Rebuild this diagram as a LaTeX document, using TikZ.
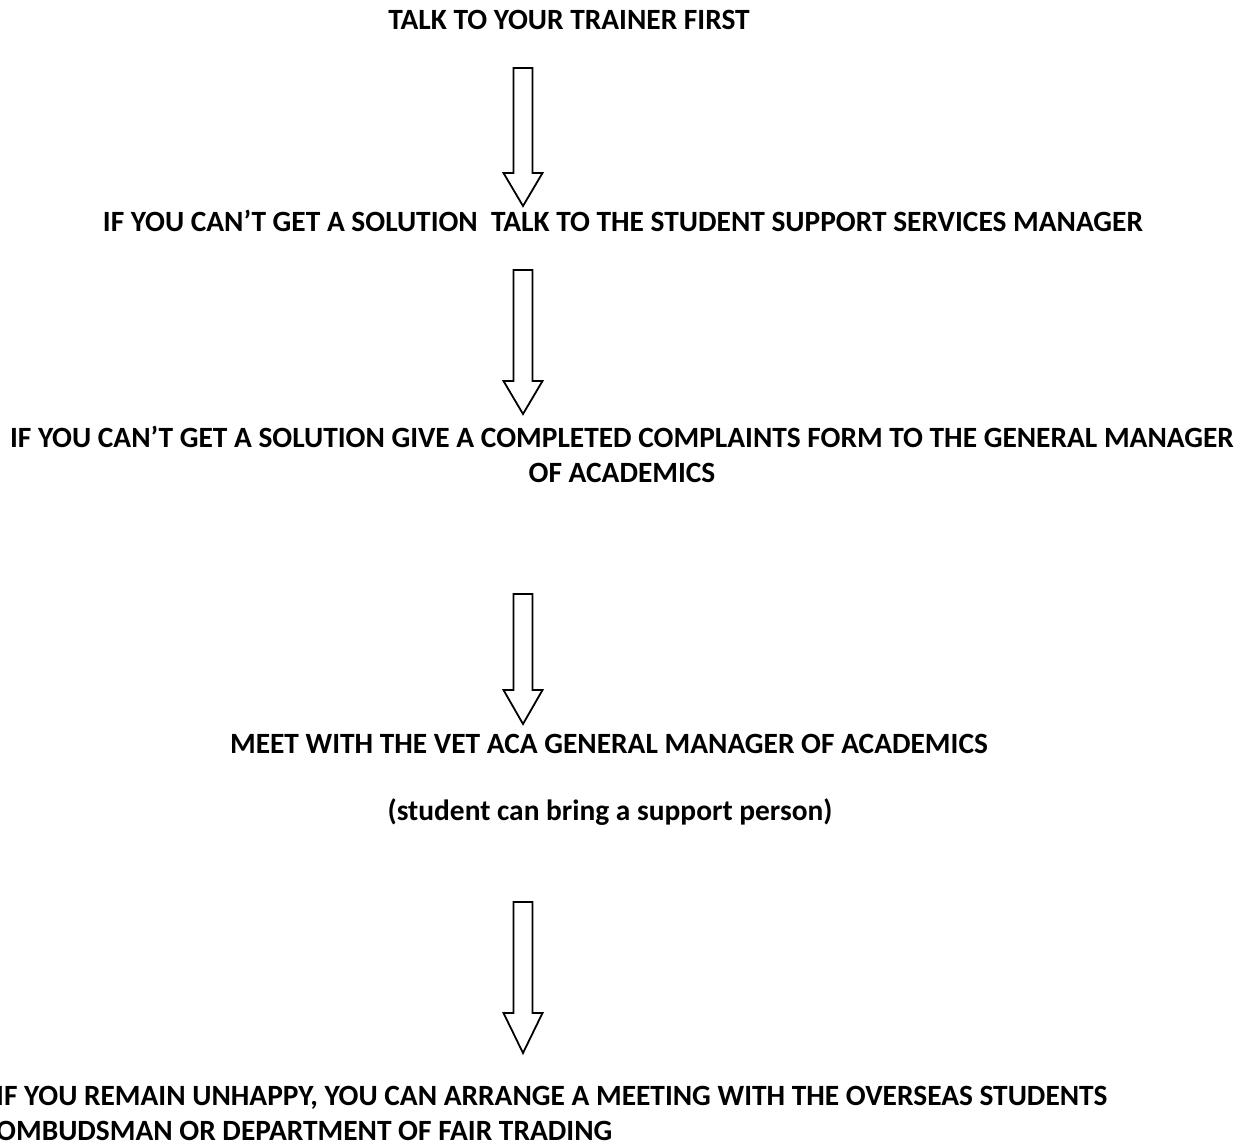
\documentclass[tikz,border=0pt]{standalone}
\usepackage{fontspec}
\setmainfont{Carlito}
\usetikzlibrary{calc}

% hollow block arrow: tail, tip, head length
\newcommand\blockarrow[3]{%
  \draw[block arrow] ($(#1)+(-9.5,0)$) -- ($(#1)+(9.5,0)$) -- ($(#2)+(9.5,#3)$)
    -- ($(#2)+(19.5,#3)$) -- (#2) -- ($(#2)+(-19.5,#3)$) -- ($(#2)+(-9.5,#3)$) -- cycle;}

\begin{document}
\begin{tikzpicture}[x=1pt,y=1pt,
    steptext/.style={font=\fontsize{29.4}{35}\selectfont\bfseries, inner sep=0pt, align=center},
    block arrow/.style={draw=black, line width=1.8pt, fill=white, line join=miter}]
  \useasboundingbox (0,0) rectangle (1250,-1142);

  %% steps
  \node[steptext] (trainer) at (569,-20) {TALK TO YOUR TRAINER FIRST};
  \node[steptext] (support) at (623,-221) {IF YOU CAN’T GET A SOLUTION\ \ TALK TO THE STUDENT SUPPORT SERVICES MANAGER};
  \node[steptext] (form) at (622,-454.5) {IF YOU CAN’T GET A SOLUTION GIVE A COMPLETED COMPLAINTS FORM TO THE GENERAL MANAGER\\OF ACADEMICS};
  \node[steptext] (meet) at (609,-744) {MEET WITH THE VET ACA GENERAL MANAGER OF ACADEMICS};
  \node[steptext] (person) at (610,-812) {(student can bring a support person)};
  \node[steptext, align=left, anchor=west] (ombud) at (-4,-1113.5) {IF YOU REMAIN UNHAPPY, YOU CAN ARRANGE A MEETING WITH THE OVERSEAS STUDENTS\\OMBUDSMAN OR DEPARTMENT OF FAIR TRADING};

  %% arrows
  \coordinate (a1) at (523,-68);  \coordinate (a1tip) at (523,-206);
  \coordinate (a2) at (523,-270); \coordinate (a2tip) at (523,-414);
  \coordinate (a3) at (523,-594); \coordinate (a3tip) at (523,-724);
  \coordinate (a4) at (523,-902); \coordinate (a4tip) at (523,-1053);
  \blockarrow{a1}{a1tip}{33}
  \blockarrow{a2}{a2tip}{33}
  \blockarrow{a3}{a3tip}{34}
  \blockarrow{a4}{a4tip}{40}
\end{tikzpicture}
\end{document}
